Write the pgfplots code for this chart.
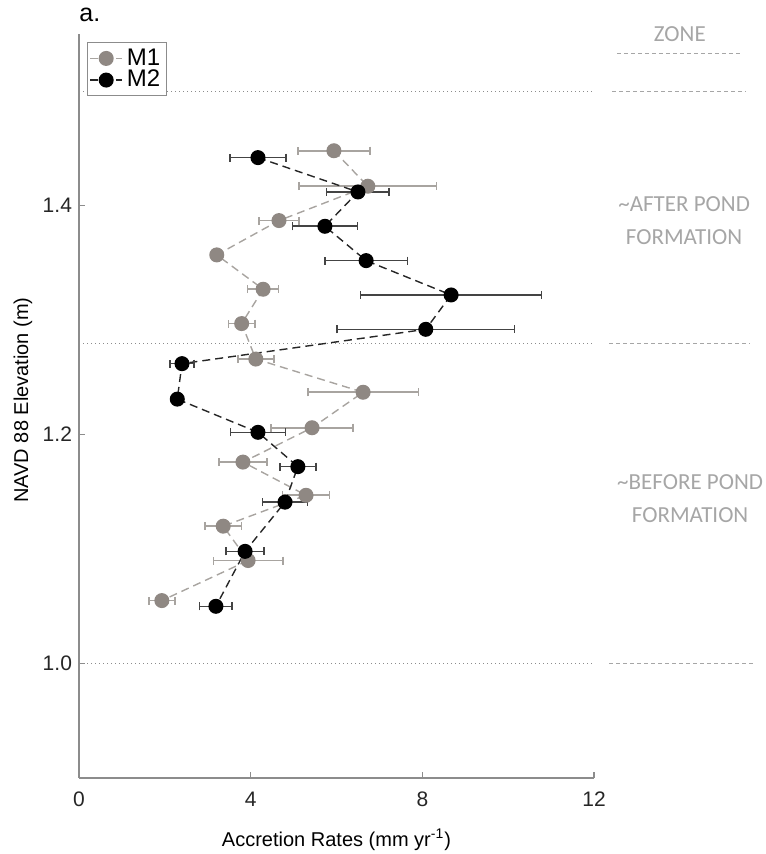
\documentclass[border=0pt]{standalone}
\usepackage{fontspec}
\setmainfont{Liberation Sans}
\newfontfamily\carlito{Carlito}
\usepackage{pgfplots}
\usepackage{pgfplotstable}
\pgfplotsset{compat=1.18}
\usetikzlibrary{calc}
\definecolor{mone}{HTML}{8F8883}
\definecolor{monel}{HTML}{A8A4A0}
\definecolor{mtwol}{HTML}{444444}
\definecolor{annot}{HTML}{A6A6A6}
\definecolor{axgray}{HTML}{8C8C8C}

\pgfplotstableread{
x y ex
5.94 1.448 0.84
6.73 1.417 1.60
4.66 1.387 0.47
3.21 1.357 0.10
4.29 1.327 0.36
3.79 1.297 0.31
4.12 1.266 0.42
6.62 1.237 1.29
5.43 1.206 0.96
3.82 1.176 0.56
5.29 1.147 0.55
3.36 1.120 0.43
3.94 1.090 0.81
1.93 1.055 0.30
}\tabmone

\pgfplotstableread{
x y ex
4.17 1.442 0.65
6.50 1.412 0.73
5.73 1.382 0.76
6.69 1.352 0.96
8.67 1.322 2.11
8.08 1.292 2.07
2.40 1.262 0.28
2.29 1.231 0.10
4.17 1.202 0.64
5.10 1.172 0.42
4.80 1.141 0.52
3.87 1.098 0.44
3.19 1.050 0.38
}\tabmtwo

\begin{document}
\begin{tikzpicture}
\begin{axis}[name=ax, scale only axis, width=257.5pt, height=372pt,
  xmin=0, xmax=12, ymin=0.9, ymax=1.55,
  axis lines*=left, axis line style={axgray, line width=0.6pt, -},
  tick align=inside, major tick length=3pt, tick style={axgray, line width=0.6pt},
  xtick={0,4,8,12}, ytick={1.0,1.2,1.4},
  y tick label style={/pgf/number format/.cd, fixed, fixed zerofill, precision=1},
  /pgf/number format/assume math mode=true,
  ticklabel style={font=\fontsize{10.5}{12}\selectfont, color=black!85},
  x tick label style={anchor=base, yshift=-14.5pt},
  xlabel={Accretion Rates (mm yr\textsuperscript{-1})},
  ylabel={NAVD 88 Elevation (m)},
  label style={font=\fontsize{12.3}{14}\selectfont, color=black!85},
  every axis x label/.style={at={(axis description cs:0.5,0)}, anchor=base, yshift=-34pt},
  every axis y label/.style={at={(axis description cs:0,0.508)}, rotate=90, anchor=center, yshift=28pt},
  clip=false,
  legend cell align=left,
  legend style={at={(axis description cs:0.0155,0.989)}, anchor=north west, draw=axgray, line width=0.5pt,
    font=\fontsize{12}{12}\selectfont, inner sep=1pt, row sep=-3pt, fill=white},
  legend image code/.code={\draw[mark repeat=2,mark phase=2,#1] plot coordinates {(0pt,0pt) (8pt,0pt) (16pt,0pt)};},
]
% reference lines
\draw[axgray, dash pattern=on 0.6pt off 1.4pt, line width=0.5pt] (axis cs:0,1.5) -- (axis cs:12,1.5);
\draw[axgray, dash pattern=on 0.6pt off 1.4pt, line width=0.5pt] (axis cs:0,1.28) -- (axis cs:12,1.28);
\draw[axgray, dash pattern=on 0.6pt off 1.4pt, line width=0.5pt] (axis cs:0,1.0) -- (axis cs:12,1.0);

\addplot[monel, dash pattern=on 4pt off 2.5pt, line width=0.7pt, mark=*, mark size=3.4pt,
  mark options={solid, fill=mone, draw=mone},
  error bars/.cd, x dir=both, x explicit,
  error bar style={solid, monel, line width=0.8pt},
  error mark options={rotate=90, monel, mark size=2pt, line width=0.8pt}]
  table[x=x, y=y, x error=ex]{\tabmone};
\addlegendentry{M1}
\addplot[black!85, dash pattern=on 4pt off 2.5pt, line width=0.7pt, mark=*, mark size=3.4pt,
  mark options={solid, fill=black, draw=black},
  error bars/.cd, x dir=both, x explicit,
  error bar style={solid, mtwol, line width=0.8pt},
  error mark options={rotate=90, mtwol, mark size=2pt, line width=0.8pt}]
  table[x=x, y=y, x error=ex]{\tabmtwo};
\addlegendentry{M2}

% right-hand zone annotations
\draw[annot, dash pattern=on 2pt off 1.5pt, line width=0.4pt] (axis cs:12.53,1.533) -- (axis cs:15.45,1.533);
\draw[annot, dash pattern=on 2pt off 1.5pt, line width=0.4pt] (axis cs:12.42,1.5) -- (axis cs:15.54,1.5);
\draw[annot, dash pattern=on 2pt off 1.5pt, line width=0.4pt] (axis cs:12.35,1.28) -- (axis cs:15.63,1.28);
\draw[annot, dash pattern=on 2pt off 1.5pt, line width=0.4pt] (axis cs:12.35,1.0) -- (axis cs:15.77,1.0);
\node[annot, font=\carlito\fontsize{11.5}{16.5}\selectfont, align=center] at (axis cs:14.0,1.550) {ZONE};
\node[annot, font=\carlito\fontsize{11.5}{16.5}\selectfont, align=center] at (axis cs:14.1,1.387) {\textasciitilde AFTER POND\\FORMATION};
\node[annot, font=\carlito\fontsize{11.5}{16.5}\selectfont, align=center] at (axis cs:14.24,1.144) {\textasciitilde BEFORE POND\\FORMATION};
\end{axis}
\node[anchor=base west, inner sep=0pt, font=\fontsize{12.5}{14}\selectfont] at ($(ax.north west)+(0pt,6pt)$) {a.};
\pgfresetboundingbox
\path[use as bounding box] ($(ax.south west)+(-39.5pt,-38pt)$) rectangle ($(ax.south west)+(343pt,389pt)$);
\end{tikzpicture}
\end{document}
